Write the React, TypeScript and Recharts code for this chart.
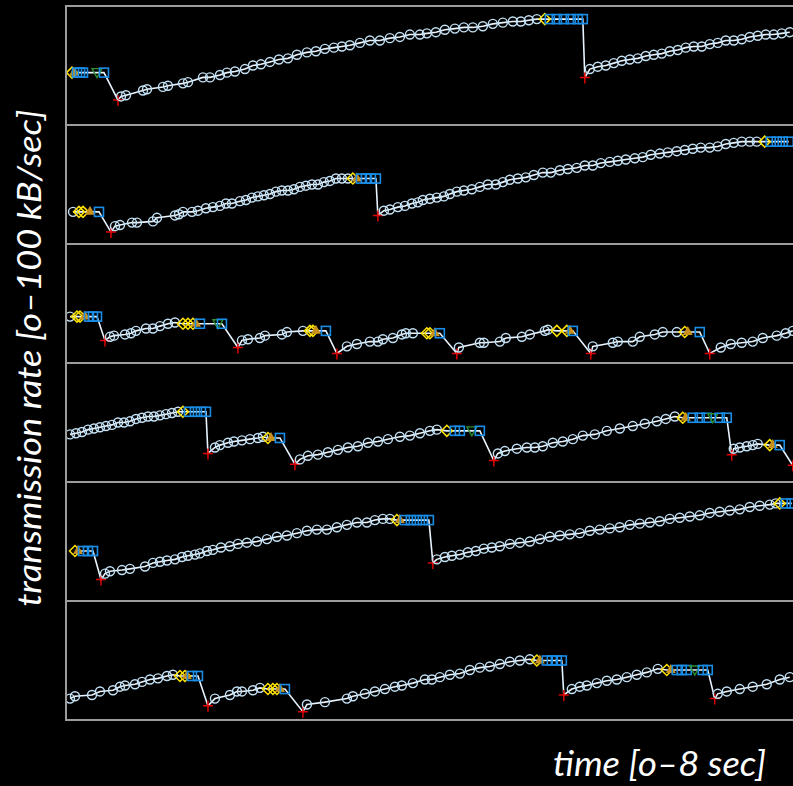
import { LineChart, Line, XAxis, YAxis } from 'recharts';

// [time ms, rate kB/s, marker] – marker defaults to 'o'
// o circle, s square, d diamond, a filled up-triangle, g down-triangle, x drop
type Pt = [number, number, string?];

const flow1: Pt[] = [
  [66, 44, 'd'], [88, 44, 'a'], [121, 44, 's'], [154, 44, 's'], [187, 44, 's'], [341, 44, 'g'], [418, 44, 's'], [572, 21, 'x'],
  [605, 24], [660, 25], [847, 29], [891, 30], [1067, 32], [1122, 33], [1287, 35], [1342, 36], [1507, 40], [1584, 40],
  [1694, 42], [1771, 44], [1859, 45], [1969, 47], [2057, 50], [2145, 51], [2244, 53], [2343, 55], [2442, 56], [2541, 59],
  [2651, 61], [2750, 62], [2849, 64], [2948, 65], [3036, 66], [3124, 67], [3234, 69], [3344, 71], [3454, 71], [3564, 73],
  [3674, 74], [3784, 76], [3894, 76], [3971, 77], [4070, 78], [4169, 80], [4279, 81], [4378, 82], [4477, 82], [4587, 83],
  [4697, 85], [4807, 86], [4917, 87], [5005, 87], [5093, 88], [5181, 89],
  [5269, 89, 'd'], [5324, 89, 's'], [5401, 89, 's'], [5478, 89, 's'], [5555, 89, 's'], [5632, 89, 's'], [5687, 89, 's'], [5709, 40, 'x'],
  [5764, 47], [5852, 49], [5940, 50], [6028, 52], [6116, 54], [6204, 55], [6292, 56], [6380, 58], [6468, 59], [6556, 60],
  [6644, 62], [6732, 63], [6820, 65], [6908, 66], [6996, 66], [7084, 68], [7172, 69], [7260, 71], [7348, 71], [7436, 72],
  [7524, 74], [7612, 75], [7700, 76], [7788, 76], [7876, 77], [7964, 78],
];

const flow2: Pt[] = [
  [77, 27], [143, 27, 'd'], [187, 27, 'd'], [264, 27, 'a'], [363, 27, 's'], [495, 10, 'x'],
  [539, 15], [594, 16], [726, 18], [781, 18], [957, 19], [1001, 22], [1199, 24], [1243, 25], [1287, 27], [1386, 27],
  [1452, 28], [1540, 30], [1617, 31], [1694, 32], [1760, 34], [1826, 34], [1914, 36], [1980, 37], [2046, 39], [2112, 40],
  [2178, 41], [2244, 42], [2310, 44], [2376, 45], [2442, 45], [2508, 46], [2574, 48], [2640, 49], [2706, 50], [2772, 50],
  [2838, 52], [2904, 53], [2970, 55], [3036, 55], [3102, 55],
  [3157, 55, 'd'], [3201, 55, 'a'], [3245, 55, 's'], [3300, 55, 's'], [3355, 55, 's'], [3410, 55, 's'], [3432, 24, 'x'],
  [3498, 28], [3564, 29], [3652, 31], [3729, 32], [3806, 34], [3872, 35], [3927, 37], [4004, 38], [4081, 39], [4158, 40],
  [4224, 42], [4301, 44], [4378, 45], [4466, 46], [4554, 48], [4642, 50], [4730, 50], [4807, 52], [4884, 54], [4972, 55],
  [5060, 56], [5148, 58], [5247, 60], [5335, 60], [5434, 62], [5522, 63], [5621, 64], [5709, 66], [5797, 66], [5885, 68],
  [5984, 69], [6072, 70], [6160, 71], [6259, 72], [6347, 73], [6435, 75], [6534, 76], [6622, 77], [6721, 78], [6809, 79],
  [6897, 80], [6985, 81], [7084, 81], [7172, 82], [7260, 84], [7348, 85], [7436, 86], [7524, 86], [7601, 86],
  [7689, 86, 'd'], [7755, 86, 's'], [7821, 86, 's'], [7887, 86, 's'], [7953, 86, 's'],
];

const flow3: Pt[] = [
  [44, 39], [121, 39, 'd'], [154, 39, 'd'], [209, 39, 'a'], [253, 39, 's'], [297, 39, 's'], [341, 39, 's'], [429, 19, 'x'],
  [484, 22], [528, 23], [649, 24], [715, 25], [770, 27], [880, 29], [957, 29], [1034, 31], [1122, 33], [1199, 34],
  [1287, 33, 'd'], [1342, 33, 'd'], [1397, 33, 'd'], [1430, 33, 'a'], [1474, 33, 's'], [1672, 33, 'g'], [1716, 33, 's'], [1892, 13, 'x'],
  [1936, 19], [2002, 20], [2134, 21], [2189, 23], [2376, 24], [2431, 26], [2607, 27],
  [2684, 27, 'd'], [2717, 27, 'd'], [2750, 27, 'a'], [2860, 27, 's'], [2981, 8, 'x'],
  [3091, 14], [3201, 16], [3344, 18], [3432, 18], [3487, 20], [3597, 21], [3696, 24], [3740, 25], [3817, 25],
  [3971, 25, 'd'], [4004, 25, 'd'], [4059, 25, 'a'], [4114, 25, 's'], [4301, 8, 'x'],
  [4323, 13], [4554, 17], [4598, 17], [4774, 18], [4840, 21], [5016, 22], [5104, 24], [5269, 27], [5302, 28],
  [5401, 27, 'd'], [5511, 27, 'd'], [5544, 27, 'a'], [5577, 27, 's'], [5775, 8, 'x'],
  [5797, 14], [6017, 17], [6072, 18], [6237, 18], [6314, 22], [6479, 24], [6567, 26], [6721, 26],
  [6809, 26, 'd'], [6842, 26, 'a'], [6974, 26, 's'], [7084, 8, 'x'],
  [7205, 13], [7315, 16], [7436, 17], [7557, 18], [7667, 21], [7821, 23], [7920, 25], [7997, 27],
];

const flow4: Pt[] = [
  [44, 40], [110, 41], [176, 42], [242, 44], [308, 45], [374, 46], [440, 47], [506, 48], [572, 50], [638, 50],
  [704, 51], [770, 53], [836, 54], [902, 55], [968, 55], [1034, 56], [1100, 57], [1166, 58], [1232, 59],
  [1287, 59, 'd'], [1353, 59, 's'], [1419, 59, 's'], [1485, 59, 's'], [1540, 59, 's'], [1562, 24, 'x'],
  [1639, 29], [1694, 31], [1782, 33], [1848, 34], [1936, 35], [2024, 36], [2112, 37], [2167, 38],
  [2222, 37, 'd'], [2255, 37, 'a'], [2354, 37, 's'], [2519, 15, 'x'],
  [2574, 19], [2662, 22], [2772, 23], [2882, 25], [2992, 27], [3102, 29], [3212, 30], [3322, 33], [3432, 34], [3542, 36],
  [3674, 38], [3784, 39], [3894, 41], [4004, 43], [4081, 44],
  [4191, 43, 'd'], [4279, 43, 's'], [4334, 43, 's'], [4466, 43, 'g'], [4554, 43, 's'], [4708, 18, 'x'],
  [4752, 24], [4829, 26], [4961, 28], [5071, 29], [5159, 29], [5247, 30], [5357, 33], [5467, 34], [5577, 36], [5687, 39],
  [5819, 40], [5951, 43], [6094, 45], [6237, 47], [6369, 49], [6501, 51], [6600, 53], [6699, 55],
  [6787, 54, 'd'], [6820, 54, 'a'], [6897, 54, 's'], [6974, 54, 's'], [7051, 54, 's'], [7117, 54, 'g'], [7194, 54, 's'], [7271, 54, 's'], [7326, 23, 'x'],
  [7348, 28], [7414, 29], [7491, 30], [7557, 31], [7612, 32],
  [7744, 31, 'd'], [7777, 31, 'a'], [7854, 31, 's'], [7997, 14, 'x'],
];

const flow5: Pt[] = [
  [99, 42, 'd'], [132, 42, 'a'], [187, 42, 's'], [242, 42, 's'], [297, 42, 's'], [385, 18, 'x'],
  [429, 23], [484, 25], [616, 26], [704, 27], [869, 29], [957, 32], [1034, 33], [1111, 34], [1199, 35], [1276, 37],
  [1342, 38], [1419, 39], [1474, 40], [1551, 42], [1617, 43], [1705, 45], [1804, 46], [1892, 48], [1991, 49], [2101, 50],
  [2211, 52], [2321, 54], [2431, 55], [2541, 57], [2651, 59], [2761, 60], [2871, 60], [2981, 62], [3091, 64], [3201, 66],
  [3311, 66], [3399, 68], [3487, 69], [3564, 69],
  [3641, 68, 'd'], [3674, 68, 'a'], [3729, 68, 's'], [3795, 68, 's'], [3861, 68, 's'], [3927, 68, 's'], [3993, 68, 's'], [4037, 32, 'x'],
  [4081, 35], [4169, 37], [4246, 38], [4334, 39], [4422, 41], [4510, 42], [4598, 44], [4686, 45], [4774, 46], [4884, 48],
  [4994, 49], [5104, 50], [5214, 52], [5324, 54], [5434, 55], [5544, 56], [5654, 57], [5764, 59], [5874, 60], [5984, 61],
  [6094, 62], [6204, 64], [6314, 65], [6424, 66], [6534, 67], [6644, 69], [6754, 70], [6864, 71], [6974, 72], [7084, 74],
  [7194, 75], [7304, 76], [7414, 77], [7524, 79], [7634, 80], [7744, 81], [7810, 82],
  [7854, 82, 'd'], [7920, 82, 's'], [7986, 82, 's'],
];

const flow6: Pt[] = [
  [44, 18], [99, 20], [286, 21], [374, 24], [517, 25], [594, 28], [649, 29], [759, 30], [836, 32], [924, 34], [1012, 35],
  [1111, 37], [1177, 38],
  [1254, 37, 'd'], [1309, 37, 'd'], [1331, 37, 'a'], [1386, 37, 's'], [1452, 37, 's'], [1562, 12, 'x'],
  [1639, 18], [1804, 21], [1881, 24], [1936, 24], [2057, 25], [2134, 27],
  [2222, 26, 'd'], [2277, 26, 'd'], [2321, 26, 'd'], [2354, 26, 'a'], [2409, 26, 's'], [2607, 7, 'x'],
  [2651, 13], [2849, 15], [3091, 18], [3157, 20], [3289, 22], [3399, 24], [3509, 26], [3619, 28], [3696, 29], [3817, 31],
  [3949, 34], [4026, 34], [4114, 36], [4224, 38], [4334, 39], [4444, 42], [4554, 44], [4664, 45], [4774, 47], [4884, 49],
  [4994, 50], [5104, 51],
  [5181, 50, 'd'], [5214, 50, 'a'], [5291, 50, 's'], [5346, 50, 's'], [5401, 50, 's'], [5456, 50, 's'], [5478, 21, 'x'],
  [5566, 26], [5654, 28], [5731, 29], [5841, 31], [5951, 33], [6061, 34], [6171, 36], [6281, 38], [6391, 40], [6512, 43],
  [6611, 42, 'd'], [6655, 42, 'a'], [6721, 42, 's'], [6776, 42, 's'], [6831, 42, 's'], [6919, 42, 'g'], [7007, 42, 's'], [7062, 42, 's'], [7139, 18, 'x'],
  [7172, 22], [7271, 24], [7414, 26], [7557, 28], [7711, 30], [7854, 34], [7964, 36],
];

const flows = [flow1, flow2, flow3, flow4, flow5, flow6];

const PANEL_TOP = 6;
const PANEL_H = 119;
const PLOT_LEFT = 66;
const PLOT_W = 727;
const FRAME = '#9c9c9c';

function renderDot(props: any) {
  const { cx, cy, payload, index } = props;
  const key = `m${index}`;
  if (cx == null || cy == null) return <g key={key} />;
  switch (payload.k) {
    case 's':
      return <rect key={key} x={cx - 4.5} y={cy - 4.5} width={9} height={9} fill="none" stroke="#1a8de6" strokeWidth={1.6} />;
    case 'd':
      return (
        <path key={key} d={`M${cx - 5.5},${cy}L${cx},${cy - 5.5}L${cx + 5.5},${cy}L${cx},${cy + 5.5}Z`} fill="none" stroke="#ffe400" strokeWidth={1.5} />
      );
    case 'a':
      return <path key={key} d={`M${cx - 5},${cy + 3}L${cx},${cy - 6}L${cx + 5},${cy + 3}Z`} fill="#c8901c" />;
    case 'g':
      return <path key={key} d={`M${cx - 5},${cy - 4}L${cx + 5},${cy - 4}L${cx},${cy + 5}Z`} fill="none" stroke="#2f8f2f" strokeWidth={1.4} />;
    case 'x':
      return <path key={key} d={`M${cx - 5},${cy}H${cx + 5}M${cx},${cy - 5}V${cy + 6}`} stroke="#e00000" strokeWidth={1.5} />;
    default:
      return <circle key={key} cx={cx} cy={cy} r={4.5} fill="none" stroke="#c4e2f6" strokeWidth={1.4} />;
  }
}

function Panel({ flow, top }: { flow: Pt[]; top: number }) {
  const data = flow.map(([t, r, k]) => ({ t, r, k: k ?? 'o' }));
  return (
    <div style={{ position: 'absolute', left: PLOT_LEFT, top, width: PLOT_W, height: PANEL_H }}>
      <LineChart width={PLOT_W} height={PANEL_H} data={data} margin={{ top: 0, right: 0, bottom: 0, left: 0 }} style={{ overflow: 'visible' }}>
        <XAxis type="number" dataKey="t" domain={[0, 8000]} hide allowDataOverflow />
        <YAxis type="number" domain={[0, 100]} hide />
        <Line
          type="linear"
          dataKey="r"
          stroke="#e8f4ff"
          strokeWidth={1.6}
          dot={renderDot}
          activeDot={false}
          isAnimationActive={false}
        />
      </LineChart>
    </div>
  );
}

export default function App() {
  return (
    <div style={{ position: 'fixed', left: 0, top: 0, width: 793, height: 786, background: '#000', overflow: 'hidden' }}>
      {flows.map((f, i) => (
        <Panel key={i} flow={f} top={PANEL_TOP + i * PANEL_H} />
      ))}
      {[0, 1, 2, 3, 4, 5, 6].map((i) => (
        <div
          key={`h${i}`}
          style={{ position: 'absolute', left: PLOT_LEFT - 1, top: PANEL_TOP + i * PANEL_H - 1, width: 793, height: 2, background: FRAME }}
        />
      ))}
      <div style={{ position: 'absolute', left: PLOT_LEFT - 1, top: PANEL_TOP - 1, width: 2, height: 6 * PANEL_H + 2, background: FRAME }} />
      <svg width={793} height={786} style={{ position: 'absolute', left: 0, top: 0 }}>
        <text
          transform="translate(41,358) rotate(-90)"
          textAnchor="middle"
          fontFamily="Lato, 'Open Sans', sans-serif"
          fontStyle="italic"
          fontSize={32}
          fill="#fff"
          textLength={497}
          lengthAdjust="spacingAndGlyphs"
        >
          transmission rate [o–100 kB/sec]
        </text>
        <text
          x={553}
          y={776}
          fontFamily="Lato, 'Open Sans', sans-serif"
          fontStyle="italic"
          fontSize={34}
          fill="#fff"
          textLength={213}
          lengthAdjust="spacingAndGlyphs"
        >
          time [o–8 sec]
        </text>
      </svg>
    </div>
  );
}
